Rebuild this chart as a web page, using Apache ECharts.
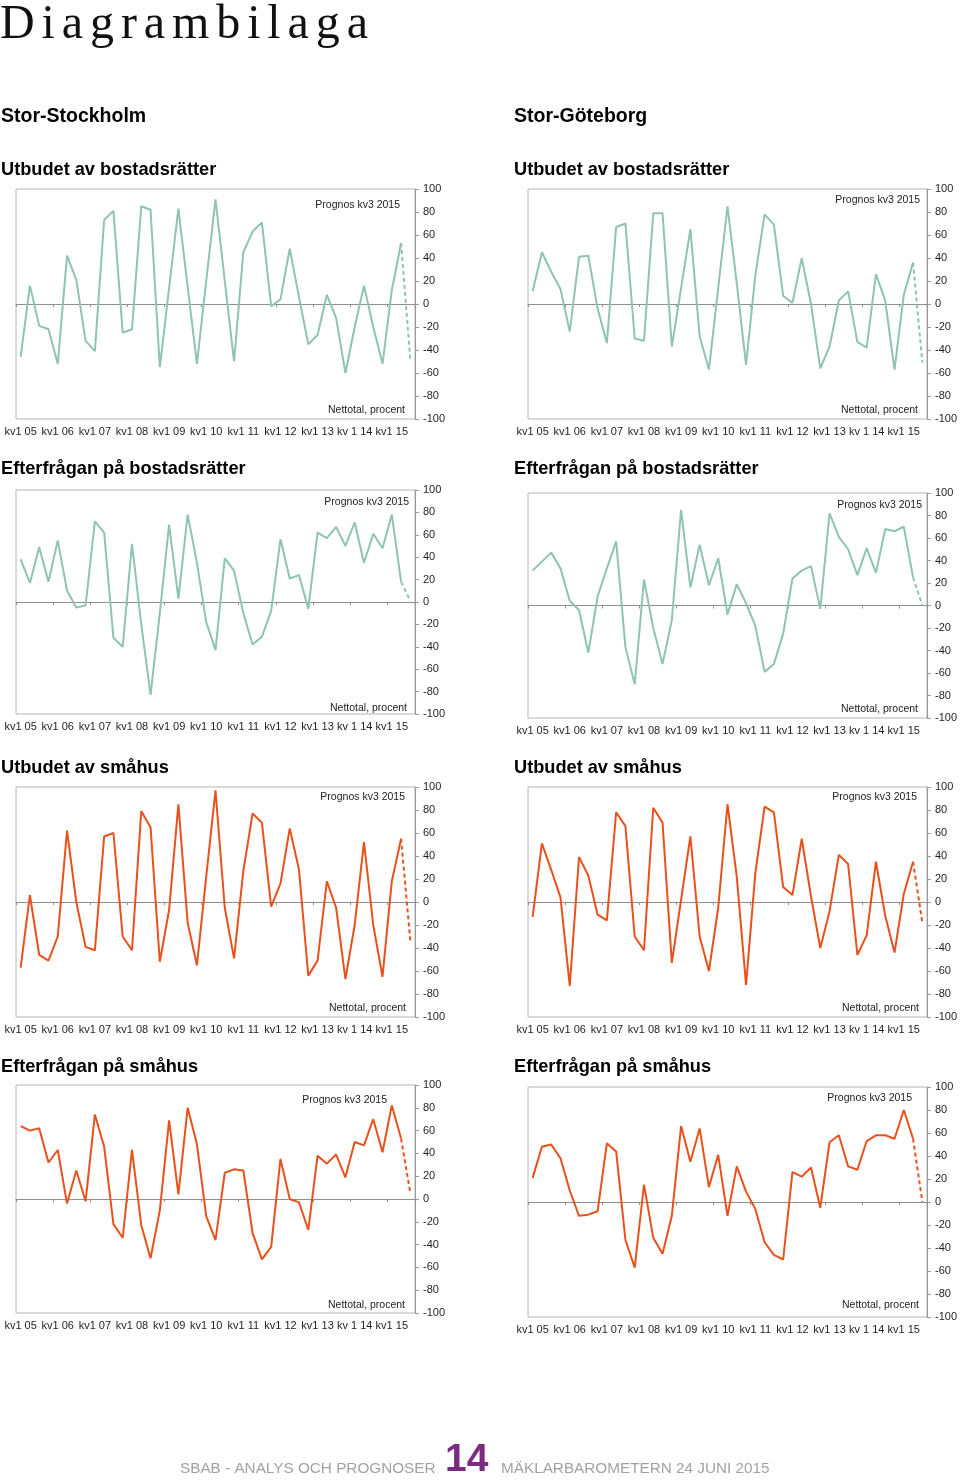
<!DOCTYPE html>
<html><head><meta charset="utf-8">
<script src="https://cdn.jsdelivr.net/npm/echarts@6/dist/echarts.min.js"></script>
<style>
html,body{margin:0;padding:0;background:#fff;}
#wrap{position:relative;width:960px;height:1482px;overflow:hidden;background:#fff;}
#chart{position:absolute;left:0;top:0;width:960px;height:1482px;}
#title{position:absolute;left:0;top:-2px;font-family:'Liberation Serif','DejaVu Serif',serif;font-size:48px;line-height:48px;letter-spacing:6.9px;color:#111;white-space:nowrap;}
</style></head><body>
<div id="wrap"><div id="chart"></div><div id="title">Diagrambilaga</div></div>
<script>
// ---- Data ----
const categories = [
 'kv1 05','kv2 05','kv3 05','kv4 05','kv1 06','kv2 06','kv3 06','kv4 06',
 'kv1 07','kv2 07','kv3 07','kv4 07','kv1 08','kv2 08','kv3 08','kv4 08',
 'kv1 09','kv2 09','kv3 09','kv4 09','kv1 10','kv2 10','kv3 10','kv4 10',
 'kv1 11','kv2 11','kv3 11','kv4 11','kv1 12','kv2 12','kv3 12','kv4 12',
 'kv1 13','kv2 13','kv3 13','kv4 13','kv1 14','kv2 14','kv3 14','kv4 14',
 'kv1 15','kv2 15','kv3 15'];
const tickLabels = ['kv1 05','kv1 06','kv1 07','kv1 08','kv1 09','kv1 10','kv1 11','kv1 12','kv1 13','kv 1 14','kv1 15'];
const yTicks = [-100,-80,-60,-40,-20,0,20,40,60,80,100];

const sthlmUtbudBR = [-46,16,-19,-22,-52,42,21,-32,-41,73,81,-25,-22,85,82,-55,14,83,15,-52,20,91,20,-50,45,63,71,-2,4,48,6,-35,-27,8,-12,-60,-20,16,-20,-52,12,53,-49];
const gbgUtbudBR   = [11,45,28,13,-24,41,42,-4,-34,67,70,-30,-32,79,79,-37,14,65,-28,-57,14,85,18,-53,25,78,69,7,1,40,0,-56,-37,3,11,-33,-38,26,3,-57,8,36,-51];
const sthlmEfterBR = [38,17,49,18,55,10,-5,-3,72,62,-32,-40,52,-20,-83,-10,69,3,78,35,-18,-43,39,28,-10,-38,-31,-8,56,21,24,-6,62,57,67,50,71,35,61,48,78,18,1];
const gbgEfterBR   = [31,39,47,33,4,-4,-42,8,33,57,-37,-70,23,-20,-52,-13,85,16,54,18,42,-8,19,2,-18,-59,-52,-25,24,31,35,-3,82,61,50,27,51,29,68,66,70,25,0];
const sthlmUtbudSH = [-57,6,-46,-51,-30,62,0,-39,-42,57,60,-30,-42,79,65,-52,-7,85,-18,-55,22,97,-5,-49,27,77,69,-4,16,64,28,-64,-51,18,-5,-67,-20,52,-20,-65,18,55,-34];
const gbgUtbudSH   = [-13,51,28,4,-73,39,23,-11,-16,78,66,-30,-42,82,69,-53,2,57,-30,-60,-5,85,22,-72,25,83,78,13,6,55,5,-40,-8,41,33,-46,-29,35,-12,-44,7,35,-18];
const sthlmEfterSH = [64,60,62,32,43,-4,25,-2,74,46,-22,-34,43,-23,-52,-10,69,4,80,48,-15,-36,23,26,25,-30,-53,-42,35,0,-3,-27,38,31,39,19,50,47,70,41,82,53,5];
const gbgEfterSH   = [21,48,50,38,10,-12,-11,-8,51,44,-33,-57,15,-31,-45,-12,66,35,64,13,41,-12,31,9,-6,-35,-46,-50,26,22,30,-5,52,58,31,28,53,58,58,55,80,55,0];

const regionTitles = ['Stor-Stockholm','Stor-Göteborg'];
const chartTitles = ['Utbudet av bostadsrätter','Efterfrågan på bostadsrätter','Utbudet av småhus','Efterfrågan på småhus'];
const prognosText = 'Prognos kv3 2015';
const unitText = 'Nettotal, procent';
const footerLeft = 'SBAB - ANALYS OCH PROGNOSER';
const footerPage = '14';
const footerRight = 'MÄKLARBAROMETERN 24 JUNI 2015';

// ---- Layout ----
const TEAL = '#8ec4b1';
const ORANGE = '#e8511c';
const SANS = "'Liberation Sans', Arial, Helvetica, sans-serif";
const panels = [
  {data: sthlmUtbudBR, color: TEAL,   left: 16,  top: 189,  height: 230, title: 0, titleX: 1,   titleY: 169.5, pX: 400, pY: 205,  nX: 405, nY: 410},
  {data: gbgUtbudBR,   color: TEAL,   left: 528, top: 189,  height: 230, title: 0, titleX: 514, titleY: 169.5, pX: 920, pY: 200,  nX: 918, nY: 410},
  {data: sthlmEfterBR, color: TEAL,   left: 16,  top: 490,  height: 224, title: 1, titleX: 1,   titleY: 468.5, pX: 409, pY: 502,  nX: 407, nY: 708},
  {data: gbgEfterBR,   color: TEAL,   left: 528, top: 493,  height: 225, title: 1, titleX: 514, titleY: 468.5, pX: 922, pY: 505,  nX: 918, nY: 709},
  {data: sthlmUtbudSH, color: ORANGE, left: 16,  top: 787,  height: 230, title: 2, titleX: 1,   titleY: 767.5, pX: 405, pY: 797,  nX: 406, nY: 1008},
  {data: gbgUtbudSH,   color: ORANGE, left: 528, top: 787,  height: 230, title: 2, titleX: 514, titleY: 767.5, pX: 917, pY: 797,  nX: 919, nY: 1008},
  {data: sthlmEfterSH, color: ORANGE, left: 16,  top: 1085, height: 228, title: 3, titleX: 1,   titleY: 1066.5, pX: 387, pY: 1100, nX: 405, nY: 1305},
  {data: gbgEfterSH,   color: ORANGE, left: 528, top: 1087, height: 230, title: 3, titleX: 514, titleY: 1066.5, pX: 912, pY: 1098, nX: 919, nY: 1305}
];
const PLOT_W = 399;

const grids = [], xAxes = [], yAxes = [], series = [], graphics = [];
panels.forEach((p, k) => {
  grids.push({left: p.left, top: p.top, width: PLOT_W, height: p.height, show: true,
    borderColor: '#b4b4b4', borderWidth: 1, backgroundColor: 'transparent', containLabel: false});
  xAxes.push({gridIndex: k, type: 'category', data: categories, boundaryGap: true,
    axisLine: {show: true, onZero: true, lineStyle: {color: '#8f8f8f', width: 1}},
    axisTick: {show: true, interval: 3, length: 3, lineStyle: {color: '#8f8f8f'}},
    axisLabel: {show: false}, splitLine: {show: false}});
  xAxes.push({gridIndex: k, type: 'category', data: categories, boundaryGap: true, position: 'bottom',
    axisLine: {show: false, onZero: false}, axisTick: {show: false}, splitLine: {show: false},
    axisLabel: {show: true, interval: 3, margin: 7, fontSize: 11, color: '#1e1e1e', fontFamily: SANS,
      formatter: (v, i) => tickLabels[Math.round(i / 4)]}});
  yAxes.push({gridIndex: k, type: 'value', position: 'right', min: yTicks[0], max: yTicks[yTicks.length - 1], interval: 20,
    axisLine: {show: true, lineStyle: {color: '#9a9a9a'}},
    axisTick: {show: true, length: 4, lineStyle: {color: '#9a9a9a'}},
    axisLabel: {margin: 8, fontSize: 11, color: '#1e1e1e', fontFamily: SANS},
    splitLine: {show: false}});
  const n = p.data.length;
  series.push({type: 'line', xAxisIndex: 2 * k, yAxisIndex: k, symbol: 'none', silent: true,
    data: p.data.map((v, i) => i <= n - 2 ? v : null),
    lineStyle: {color: p.color, width: 2}, itemStyle: {color: p.color}, z: 3});
  series.push({type: 'line', xAxisIndex: 2 * k, yAxisIndex: k, symbol: 'none', silent: true,
    data: p.data.map((v, i) => i >= n - 2 ? v : null),
    lineStyle: {color: p.color, width: 2, type: [4, 3]}, itemStyle: {color: p.color}, z: 3});
  graphics.push({type: 'text', x: p.titleX, y: p.titleY, style: {text: chartTitles[p.title], fill: '#000',
    font: "bold 18.2px " + SANS, align: 'left', verticalAlign: 'middle'}});
  graphics.push({type: 'text', x: p.pX, y: p.pY, style: {text: prognosText, fill: '#222',
    font: "10.5px " + SANS, align: 'right', verticalAlign: 'middle'}});
  graphics.push({type: 'text', x: p.nX, y: p.nY, style: {text: unitText, fill: '#222',
    font: "10.5px " + SANS, align: 'right', verticalAlign: 'middle'}});
});
graphics.push({type: 'text', x: 1, y: 116.5, style: {text: regionTitles[0], fill: '#000', font: "bold 19.5px " + SANS, align: 'left', verticalAlign: 'middle'}});
graphics.push({type: 'text', x: 514, y: 116.5, style: {text: regionTitles[1], fill: '#000', font: "bold 19.5px " + SANS, align: 'left', verticalAlign: 'middle'}});
graphics.push({type: 'text', x: 180, y: 1468.5, style: {text: footerLeft, fill: '#a2a2a2', font: "15.3px " + SANS, align: 'left', verticalAlign: 'middle'}});
graphics.push({type: 'text', x: 445, y: 1460.5, style: {text: footerPage, fill: '#7c2b82', font: "bold 39px " + SANS, align: 'left', verticalAlign: 'middle'}});
graphics.push({type: 'text', x: 501, y: 1468.5, style: {text: footerRight, fill: '#a2a2a2', font: "15.3px " + SANS, align: 'left', verticalAlign: 'middle'}});

const chart = echarts.init(document.getElementById('chart'), null, {renderer: 'canvas'});
chart.setOption({
  animation: false,
  backgroundColor: '#fff',
  grid: grids, xAxis: xAxes, yAxis: yAxes, series: series,
  graphic: graphics
});
</script></body></html>
